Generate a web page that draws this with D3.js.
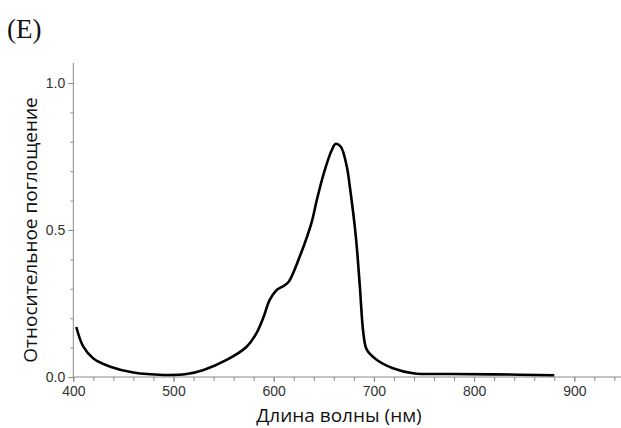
<!DOCTYPE html>
<html>
<head>
<meta charset="utf-8">
<script src="https://cdn.jsdelivr.net/npm/d3@7"></script>
<style>
  html, body { margin: 0; padding: 0; background: #fff; }
  svg { display: block; }
</style>
</head>
<body>
<svg id="chart" width="621" height="428"></svg>
<script>
// ---- data ----
const wavelength = [403, 410, 420, 437, 460, 490, 513, 530, 553, 573, 583, 590, 596, 603, 610, 615, 626, 638, 643, 650, 658, 662, 667, 673, 676, 682, 686, 689.5, 693, 703, 719, 739, 776, 820, 880];
const absorbance = [0.17, 0.103, 0.063, 0.035, 0.015, 0.007, 0.01, 0.024, 0.058, 0.103, 0.15, 0.205, 0.262, 0.296, 0.31, 0.324, 0.41, 0.528, 0.602, 0.693, 0.772, 0.793, 0.783, 0.715, 0.647, 0.477, 0.307, 0.149, 0.092, 0.058, 0.03, 0.013, 0.01, 0.009, 0.006];
const xMajorTicks = [400, 500, 600, 700, 800, 900];
const xMinorTicks = d3.range(400, 950, 20);
const yMajorTicks = [0, 0.5, 1.0];
const yMinorTicks = d3.range(0, 1.05, 0.1);
const title = "(E)";
const xLabel = "Длина волны (нм)";
const yLabel = "Относительное поглощение";

// ---- layout ----
const svg = d3.select("#chart");
const x = d3.scaleLinear().domain([400, 900]).range([73.3, 574.3]);
const y = d3.scaleLinear().domain([0, 1]).range([377, 83]);
const axisColor = "#8a8a8a";

// title
svg.append("text").attr("x", 7).attr("y", 38)
  .attr("font-family", "'Liberation Serif', 'DejaVu Serif', serif")
  .attr("font-size", 27).attr("fill", "#111").text(title);

// x axis
const xAxisG = svg.append("g").attr("transform", `translate(0,${y(0)})`);
xAxisG.call(d3.axisBottom(x).tickValues(xMinorTicks).tickSize(4).tickFormat(""));
xAxisG.call(g => g.select(".domain").remove());
const xMajor = svg.append("g").attr("transform", `translate(0,${y(0)})`)
  .call(d3.axisBottom(x).tickValues(xMajorTicks).tickSize(5).tickPadding(4).tickFormat(d3.format("d")));
xMajor.select(".domain").remove();
svg.append("line").attr("x1", x(400)).attr("x2", 621).attr("y1", y(0)).attr("y2", y(0))
  .attr("stroke", axisColor).attr("stroke-width", 1);

// y axis
const yMinor = svg.append("g").attr("transform", `translate(${x(400)},0)`)
  .call(d3.axisLeft(y).tickValues(yMinorTicks).tickSize(3).tickFormat(""));
yMinor.select(".domain").remove();
const yMajor = svg.append("g").attr("transform", `translate(${x(400)},0)`)
  .call(d3.axisLeft(y).tickValues(yMajorTicks).tickSize(5).tickPadding(3).tickFormat(d3.format(".1f")));
yMajor.select(".domain").remove();
svg.append("line").attr("x1", x(400)).attr("x2", x(400)).attr("y1", 63).attr("y2", y(0))
  .attr("stroke", axisColor).attr("stroke-width", 1);

svg.selectAll(".tick line").attr("stroke", axisColor);
svg.selectAll(".tick text")
  .attr("font-family", "'Liberation Sans', Arial, sans-serif")
  .attr("font-size", 14).attr("fill", "#333");

// curve
const pts = wavelength.map((w, i) => [w, absorbance[i]]);
const line = d3.line().x(d => x(d[0])).y(d => y(d[1])).curve(d3.curveCatmullRom.alpha(0.5));
svg.append("path").datum(pts).attr("d", line)
  .attr("fill", "none").attr("stroke", "#000").attr("stroke-width", 2.6)
  .attr("stroke-linejoin", "round").attr("stroke-linecap", "butt");

// axis labels
svg.append("text").attr("x", 339).attr("y", 422).attr("text-anchor", "middle")
  .attr("font-family", "'Open Sans', sans-serif").attr("font-size", 19).attr("fill", "#111")
  .text(xLabel);
svg.append("text").attr("transform", "translate(37,230) rotate(-90)").attr("text-anchor", "middle")
  .attr("font-family", "'Open Sans', sans-serif").attr("font-size", 19).attr("fill", "#111")
  .text(yLabel);
</script>
</body>
</html>
